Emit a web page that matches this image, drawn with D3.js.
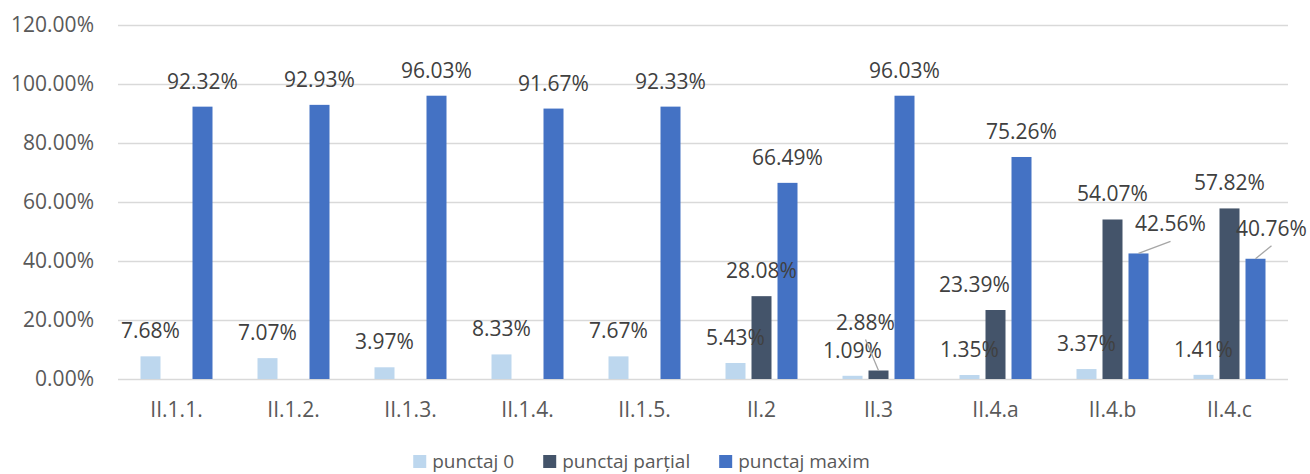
<!DOCTYPE html>
<html>
<head>
<meta charset="utf-8">
<script src="https://cdn.jsdelivr.net/npm/d3@7"></script>
<style>
  html, body { margin: 0; padding: 0; background: #ffffff; }
  svg { display: block; font-family: "Open Sans", sans-serif; }
</style>
</head>
<body>
<svg id="chart" width="1310" height="474"></svg>
<script>
// ---- data ----
const categories = ["II.1.1.", "II.1.2.", "II.1.3.", "II.1.4.", "II.1.5.", "II.2", "II.3", "II.4.a", "II.4.b", "II.4.c"];
const seriesNames = ["punctaj 0", "punctaj parțial", "punctaj maxim"];
const punctaj0 = [7.68, 7.07, 3.97, 8.33, 7.67, 5.43, 1.09, 1.35, 3.37, 1.41];
const punctajPartial = [null, null, null, null, null, 28.08, 2.88, 23.39, 54.07, 57.82];
const punctajMaxim = [92.32, 92.93, 96.03, 91.67, 92.33, 66.49, 96.03, 75.26, 42.56, 40.76];
const yTickValues = [0, 20, 40, 60, 80, 100, 120];

// ---- style / layout ----
const colors = ["#BDD7EE", "#44546A", "#4472C4"];
const plot = { left: 118, right: 1288, top: 25, bottom: 379 };
// manual label nudges (series index, category index) -> [dx, dy, leader]
const labelNudges = {
  "1-6": [-13, -23, true],
  "1-7": [-21, 0, false],
  "2-8": [32, -4, true],
  "2-9": [16, -5, true]
};

const svg = d3.select("#chart");
const seriesValues = [punctaj0, punctajPartial, punctajMaxim];

const y = d3.scaleLinear().domain([0, 120]).range([plot.bottom, plot.top]);
const x = d3.scaleBand().domain(categories).range([plot.left, plot.right]).padding(0);
const xs = d3.scaleBand().domain([0, 1, 2]).range([22.5, 94.5]).paddingInner(6 / 26).paddingOuter(0);

// gridlines + y labels
const yAxis = d3.axisLeft(y)
  .tickValues(yTickValues)
  .tickFormat(d => d.toFixed(2) + "%")
  .tickSize(-(plot.right - plot.left))
  .tickPadding(24);
const gy = svg.append("g").attr("transform", `translate(${plot.left},0)`).call(yAxis);
gy.select(".domain").remove();
gy.selectAll(".tick line").attr("stroke", "#D9D9D9").attr("stroke-width", 1.5);
gy.selectAll(".tick text").attr("fill", "#595959").style("font-size", "21px").style("font-family", "Open Sans");

// x labels
const xAxis = d3.axisBottom(x).tickSize(0).tickPadding(23);
const gx = svg.append("g").attr("transform", `translate(0,${plot.bottom})`).call(xAxis);
gx.select(".domain").remove();
gx.selectAll(".tick text").attr("fill", "#595959").style("font-size", "21px").style("font-family", "Open Sans");

// bars
const barData = [];
seriesValues.forEach((vals, si) => {
  vals.forEach((v, ci) => {
    if (v === null || v === undefined) return;
    barData.push({ si, ci, v, cat: categories[ci] });
  });
});

svg.append("g").selectAll("rect").data(barData).join("rect")
  .attr("x", d => x(d.cat) + xs(d.si))
  .attr("width", xs.bandwidth())
  .attr("y", d => y(d.v))
  .attr("height", d => y(0) - y(d.v))
  .attr("fill", d => colors[d.si]);

// data labels
const lg = svg.append("g");
barData.forEach(d => {
  const cx = x(d.cat) + xs(d.si) + xs.bandwidth() / 2;
  const top = y(d.v);
  let lx = cx, ly = top - 18;
  const nudge = labelNudges[d.si + "-" + d.ci];
  if (nudge) {
    lx += nudge[0];
    ly += nudge[1];
    if (nudge[2]) {
      lg.append("line")
        .attr("x1", lx).attr("y1", ly + 10)
        .attr("x2", cx).attr("y2", top)
        .attr("stroke", "#A6A6A6").attr("stroke-width", 1.3);
    }
  }
  lg.append("text")
    .attr("x", lx).attr("y", ly)
    .attr("text-anchor", "middle")
    .attr("fill", "#404040")
    .style("font-size", "21px")
    .text(d.v.toFixed(2) + "%");
});

// legend
const leg = svg.append("g");
let cursor = 0;
seriesNames.forEach((name, i) => {
  const g = leg.append("g");
  g.append("rect").attr("x", 0).attr("y", -6.5).attr("width", 13).attr("height", 13).attr("fill", colors[i]);
  const t = g.append("text").attr("x", 19).attr("y", 0).attr("dy", "0.35em")
    .attr("fill", "#595959").style("font-size", "19px").text(name);
  const w = 19 + t.node().getComputedTextLength();
  g.attr("transform", `translate(${cursor},0)`);
  cursor += w + 29;
});
const legW = cursor - 29;
leg.attr("transform", `translate(${641.5 - legW / 2},461.5)`);
</script>
</body>
</html>
